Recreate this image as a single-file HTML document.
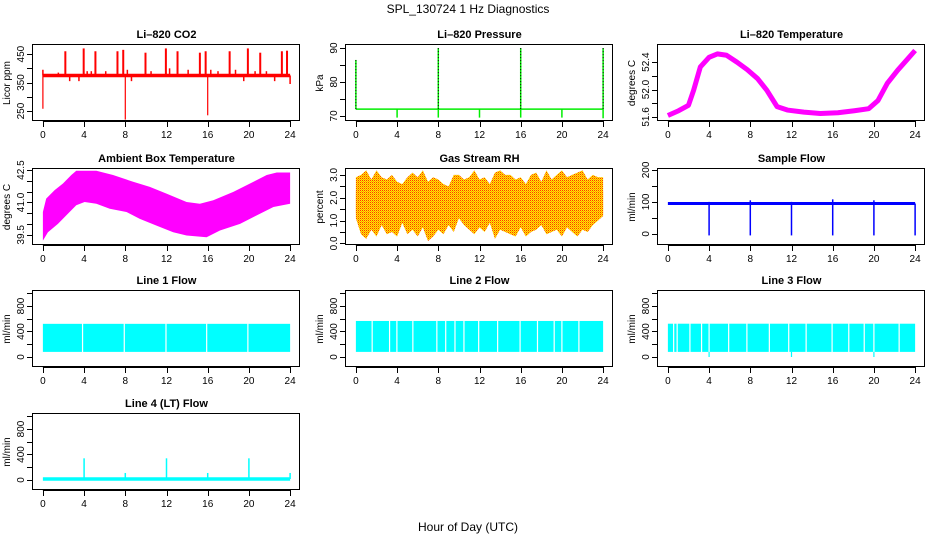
<!DOCTYPE html>
<html><head><meta charset="utf-8"><style>
html,body{margin:0;padding:0;background:#fff;width:936px;height:540px;overflow:hidden}
svg{display:block;font-family:"Liberation Sans",sans-serif}
.t{font-size:11px;font-weight:bold;text-anchor:middle}
.tk{font-size:10px;text-anchor:middle}
</style></head><body>
<svg id="c" width="936" height="540" viewBox="0 0 936 540">
<defs>
<pattern id="rhpat" width="2" height="2" patternUnits="userSpaceOnUse">
<rect width="2" height="2" fill="#ffee00"/><rect width="1" height="1" fill="#ff3300"/><rect x="1" y="1" width="1" height="1" fill="#ff9900"/>
</pattern>
</defs>
<text x="468" y="13" font-size="12" text-anchor="middle">SPL_130724  1 Hz Diagnostics</text>
<text x="468" y="531" font-size="12" text-anchor="middle">Hour of Day (UTC)</text>
</svg>
<script>
// ---- data ----
const xTicks=[0,4,8,12,16,20,24];
// CO2
const co2Base=375;
const co2SpikeHours=[2.18,3.96,5.1,7.24,7.8,9.96,11.94,13.07,15.24,15.8,18.13,19.9,21.1,23.2,23.7];
const co2SpikeValues=[460,470,460,460,465,455,470,460,455,460,460,470,455,460,462];
const co2BumpHours=[0,1.5,2.6,3.5,4.3,4.7,6.1,8.2,8.6,10.5,12.3,14.1,16.3,17,18.7,19.5,20.6,21.7,22.5,24];
const co2BumpValues=[395,385,355,355,390,390,390,395,355,390,400,395,395,390,395,355,390,390,355,345];
const co2DipHours=[0,8,16];
const co2DipValues=[258,220,235];
// Pressure
const presBase=72;
const presSpikeHours=[0,8,16,24];
const presSpikeValues=[86.5,90,90,90];
const presDipHours=[4,8,12,16,20,24];
const presDipValues=[69.5,69.5,69.5,69.5,69.5,69.3];
// Li-820 temperature
const liTempHours=[0,1.04,2.0,2.5,3.15,4.0,4.8,5.7,6.7,7.7,8.7,9.6,10.6,11.6,13.2,14.8,16.5,18.1,19.5,20.4,21.3,22.3,23.3,24];
const liTempValues=[51.62,51.69,51.77,51.99,52.33,52.47,52.52,52.50,52.40,52.29,52.16,51.99,51.75,51.70,51.67,51.65,51.66,51.69,51.72,51.84,52.09,52.28,52.45,52.57];
// Ambient box temperature band
const ambHoursU=[0,0.32,1.14,1.95,2.76,3.24,5.19,6.81,8.76,10.38,12.0,13.95,15.24,16.54,18.49,20.11,21.73,22.7,24];
const ambUpper=[40.56,41.18,41.57,41.88,42.27,42.47,42.47,42.27,41.96,41.72,41.41,41.02,40.94,41.1,41.49,41.88,42.27,42.39,42.39];
const ambHoursL=[0,0.49,1.46,2.27,3.24,4.05,5.19,6.49,8.11,9.41,11.03,12.65,13.95,15.89,17.19,19.14,20.76,22.38,24];
const ambLower=[39.23,39.62,40.01,40.4,40.87,41.02,40.94,40.71,40.56,40.24,39.93,39.62,39.47,39.39,39.7,40.01,40.4,40.79,40.94];
// Gas stream RH band (0.5 h steps)
const rhUpper=[2.9,3.0,3.2,2.8,3.2,2.9,2.8,3.0,2.7,2.6,2.9,3.1,2.9,3.2,2.7,2.9,2.8,2.6,2.5,3.0,3.0,2.8,2.9,3.2,2.8,2.9,2.6,3.1,3.2,3.0,3.0,2.8,2.9,2.6,3.0,3.1,2.7,3.2,2.8,3.0,3.2,2.9,3.0,3.1,3.2,2.8,3.0,2.9,2.9];
const rhLower=[1.1,0.4,0.2,0.6,0.3,0.8,0.4,0.5,0.3,0.9,0.4,0.6,0.3,0.7,0.1,0.3,0.6,0.4,0.8,0.5,1.1,0.8,0.6,0.4,0.7,0.5,0.9,0.2,0.6,0.5,0.4,0.3,0.7,0.3,0.5,0.6,0.8,0.4,0.5,0.6,0.3,0.7,0.5,0.3,0.6,0.5,0.8,1.0,1.2];
// Sample flow
const sfBase=95;
const sfDipHours=[4,8,12,16,20,24];
const sfDipValues=[-5,-5,-5,-5,-5,-5];
const sfSpikeValues=[100,105,100,108,105,95];
// Line flows
const l1Top=520, l1Bottom=80;
const l1Gaps=[3.85,7.9,11.95,15.9,19.9];
const l2Top=565, l2Bottom=80;
const l2Gaps=[1.58,3.27,3.98,5.53,7.86,8.72,9.62,10.49,11.92,13.76,15.94,17.63,19.25,20.0,21.65];
const l3Top=522, l3Bottom=80;
const l3Gaps=[0.56,0.9,2.14,3.27,4.0,5.9,7.67,9.85,11.73,13.42,15.94,17.56,19.06,20.0,22.45];
const l3DipHours=[4,12,20];
const l3DipValues=[0,0,0];
// Line 4 (LT) flow
const l4Base=15;
const l4SpikeHours=[4,8,12,16,20,24];
const l4SpikeValues=[340,110,340,110,340,110];

// ---- drawing ----
const NS="http://www.w3.org/2000/svg";
const svg=document.getElementById('c');
function mk(tag,attrs,parent){const e=document.createElementNS(NS,tag);for(const k in attrs)e.setAttribute(k,attrs[k]);(parent||svg).appendChild(e);return e;}
const colL=[33,346,658], rowT=[45,169,291,414], W=267, H=76;

function panel(c,r,name,title,ytitle,ylim,yticks,ylabels){
  const L=colL[c],T=rowT[r];
  const g=mk('g',{});
  
  
  const sx=t=>L+(t+0.96)/25.92*W;
  const sy=v=>T+H-(v-ylim[0])/(ylim[1]-ylim[0])*H;
  const tt=mk('text',{x:L+W/2,y:T-7,class:'t'},g);tt.textContent=title;
  
  
  const yt=mk('text',{x:0,y:0,class:'tk',transform:`translate(${L-23},${T+H/2}) rotate(-90)`},g);yt.textContent=ytitle;
  
  
  // x axis
  const xa=mk('g',{stroke:'#000','stroke-width':1},g);
  
  
  mk('line',{x1:sx(0),x2:sx(24),y1:T+H+0.5,y2:T+H+0.5},xa);
  xTicks.forEach(t=>{
    mk('line',{x1:Math.round(sx(t))+0.5,x2:Math.round(sx(t))+0.5,y1:T+H,y2:T+H+6},xa);
    const lb=mk('text',{x:sx(t),y:T+H+17,class:'tk',stroke:'none'},g);lb.textContent=t;
    
    
  });
  const ya=mk('g',{stroke:'#000','stroke-width':1},g);
  
  
  mk('line',{x1:L-0.5,x2:L-0.5,y1:sy(yticks[0]),y2:sy(yticks[yticks.length-1])},ya);
  yticks.forEach(v=>{
    mk('line',{x1:L-6,x2:L,y1:Math.round(sy(v))+0.5,y2:Math.round(sy(v))+0.5},ya);
  });
  ylabels.forEach(v=>{
    const lb=mk('text',{x:0,y:0,class:'tk',transform:`translate(${L-9},${sy(v)}) rotate(-90)`},g);lb.textContent=v;
    
    
  });
  const d=mk('g',{},g);
  
  
  const box=mk('rect',{x:L-0.5,y:T-0.5,width:W,height:H,fill:'none',stroke:'#000'},g);
  
  
  return {sx,sy,d};
}
function vline(p,t,v0,v1,col,w){mk('line',{x1:p.sx(t),x2:p.sx(t),y1:p.sy(v0),y2:p.sy(v1),stroke:col,'stroke-width':w||1.5},p.d);}
function hline(p,v,col,w){mk('line',{x1:p.sx(0),x2:p.sx(24),y1:p.sy(v),y2:p.sy(v),stroke:col,'stroke-width':w},p.d);}

// CO2
let p=panel(0,0,'co2','Li\u2013820 CO2','Licor ppm',[215,482],[250,300,350,400,450],[250,350,450]);
hline(p,co2Base,'#ff0000',3.5);
co2SpikeHours.forEach((t,i)=>vline(p,t,co2Base,co2SpikeValues[i],'#ff0000',2));
co2BumpHours.forEach((t,i)=>vline(p,t,co2Base,co2BumpValues[i],'#ff0000',1.5));
co2DipHours.forEach((t,i)=>vline(p,t,co2Base,co2DipValues[i],'#ff0000',1.2));

// Pressure
p=panel(1,0,'pressure','Li\u2013820 Pressure','kPa',[68.5,90.9],[70,75,80,85,90],[70,80,90]);
hline(p,presBase,'#00ee00',1.5);
presSpikeHours.forEach((t,i)=>{vline(p,t,presBase,presSpikeValues[i],'#00ee00',1.5);mk('line',{x1:p.sx(t),x2:p.sx(t),y1:p.sy(presBase),y2:p.sy(presSpikeValues[i]),stroke:'#000','stroke-width':1,'stroke-dasharray':'1,2'},p.d);});
presDipHours.forEach((t,i)=>vline(p,t,presBase,presDipValues[i],'#00ee00',1.5));

// Li temp
p=panel(2,0,'li820-temp','Li\u2013820 Temperature','degrees C',[51.54,52.65],[51.6,51.8,52.0,52.2,52.4],['51.6','52.0','52.4']);
mk('polyline',{points:liTempHours.map((t,i)=>p.sx(t)+','+p.sy(liTempValues[i])).join(' '),fill:'none',stroke:'#ff00ff','stroke-width':5,'stroke-linejoin':'round'},p.d);

// Ambient
p=panel(0,1,'ambient-temp','Ambient Box Temperature','degrees C',[39.03,42.55],[39.5,40,40.5,41,41.5,42,42.5],['39.5','41.0','42.5']);
{const pts=ambHoursU.map((t,i)=>p.sx(t)+','+p.sy(ambUpper[i])).concat(ambHoursL.map((t,i)=>p.sx(t)+','+p.sy(ambLower[i])).reverse());
mk('polygon',{points:pts.join(' '),fill:'#ff00ff'},p.d);}

// RH
p=panel(1,1,'gas-rh','Gas Stream RH','percent',[-0.07,3.26],[0,0.5,1,1.5,2,2.5,3],['0.0','1.0','2.0','3.0']);
{const pts=[];rhUpper.forEach((v,i)=>{pts.push(p.sx(i*0.5)+','+p.sy(v));});
for(let i=rhLower.length-1;i>=0;i--)pts.push(p.sx(i*0.5)+','+p.sy(rhLower[i]));
mk('polygon',{points:pts.join(' '),fill:'url(#rhpat)'},p.d);
mk('rect',{x:p.sx(0),y:p.sy(2.3),width:p.sx(24)-p.sx(0),height:p.sy(1.3)-p.sy(2.3),fill:'url(#rhpat)'},p.d);}

// Sample flow
p=panel(2,1,'sample-flow','Sample Flow','ml/min',[-35,203],[0,50,100,150,200],[0,100,200]);
hline(p,sfBase,'#0000ff',3);
sfDipHours.forEach((t,i)=>{vline(p,t,sfSpikeValues[i],sfDipValues[i],'#0000ff',1.5);});

// Line flows
function bandFlow(c,r,name,title,top,bot,gaps){
  const q=panel(c,r,name,title,'ml/min',[-157,1035],[0,200,400,600,800,1000],[0,400,800]);
  mk('rect',{x:q.sx(0),y:q.sy(top),width:q.sx(24)-q.sx(0),height:q.sy(bot)-q.sy(top),fill:'#00ffff'},q.d);
  gaps.forEach(t=>vline(q,t,top+5,bot-5,'#ffffff',1.2));
  return q;
}
bandFlow(0,2,'line1-flow','Line 1 Flow',l1Top,l1Bottom,l1Gaps);
bandFlow(1,2,'line2-flow','Line 2 Flow',l2Top,l2Bottom,l2Gaps);
p=bandFlow(2,2,'line3-flow','Line 3 Flow',l3Top,l3Bottom,l3Gaps);
l3DipHours.forEach((t,i)=>vline(p,t,l3Bottom,l3DipValues[i],'#00ffff',1.2));

// Line 4
p=panel(0,3,'line4-flow','Line 4 (LT) Flow','ml/min',[-157,1035],[0,200,400,600,800,1000],[0,400,800]);
hline(p,l4Base,'#00ffff',3.5);
l4SpikeHours.forEach((t,i)=>vline(p,t,l4Base,l4SpikeValues[i],'#00ffff',1.5));
</script>
</body></html>
